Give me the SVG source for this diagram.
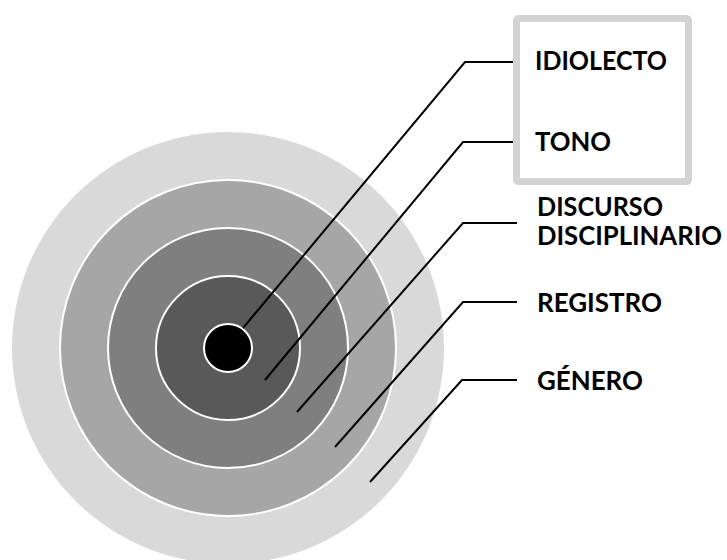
<svg xmlns="http://www.w3.org/2000/svg" width="727" height="560" viewBox="0 0 727 560">
<style>
.ring{stroke:#ffffff;stroke-width:2}
.lead{fill:none;stroke:#000000;stroke-width:2;stroke-linejoin:miter}
.lbl{font-family:Lato,"Open Sans","Liberation Sans",sans-serif;font-weight:bold;font-size:27px;fill:#000000}
.sm{font-size:26px}
</style>
<rect width="727" height="560" fill="#ffffff"/>
<g id="rings">
<g id="ring-genero"><circle cx="228" cy="348" r="216" fill="#d9d9d9"/></g>
<g id="ring-registro"><circle class="ring" cx="228" cy="348" r="168" fill="#a6a6a6"/></g>
<g id="ring-discurso"><circle class="ring" cx="228" cy="348" r="120" fill="#7f7f7f"/></g>
<g id="ring-tono"><circle class="ring" cx="228" cy="348" r="72" fill="#595959"/></g>
<g id="ring-idiolecto"><circle class="ring" cx="228" cy="348" r="24" fill="#000000"/></g>
</g>
<g id="box">
<rect x="516.5" y="18.5" width="172" height="163" rx="2" fill="#ffffff" stroke="#d3d3d3" stroke-width="7"/>
</g>
<g id="connectors">
<polyline class="lead" points="243,328 465,62 513,62"/>
<polyline class="lead" points="265,380 463,142 513,142"/>
<polyline class="lead" points="297,412 463,223 517,223"/>
<polyline class="lead" points="335,447 463,302 517,302"/>
<polyline class="lead" points="370,482 462,380 517,380"/>
</g>
<g id="label-idiolecto"><text class="lbl" x="535" y="70" textLength="132" lengthAdjust="spacingAndGlyphs">IDIOLECTO</text></g>
<g id="label-tono"><text class="lbl" x="535" y="151" textLength="76" lengthAdjust="spacingAndGlyphs">TONO</text></g>
<g id="label-discurso"><text class="lbl" x="537" y="216" textLength="126" lengthAdjust="spacingAndGlyphs">DISCURSO</text><text class="lbl sm" x="537" y="245" textLength="185" lengthAdjust="spacingAndGlyphs">DISCIPLINARIO</text></g>
<g id="label-registro"><text class="lbl" x="537" y="312" textLength="125" lengthAdjust="spacingAndGlyphs">REGISTRO</text></g>
<g id="label-genero"><text class="lbl" x="537" y="390" textLength="106" lengthAdjust="spacingAndGlyphs">GÉNERO</text></g>
</svg>
